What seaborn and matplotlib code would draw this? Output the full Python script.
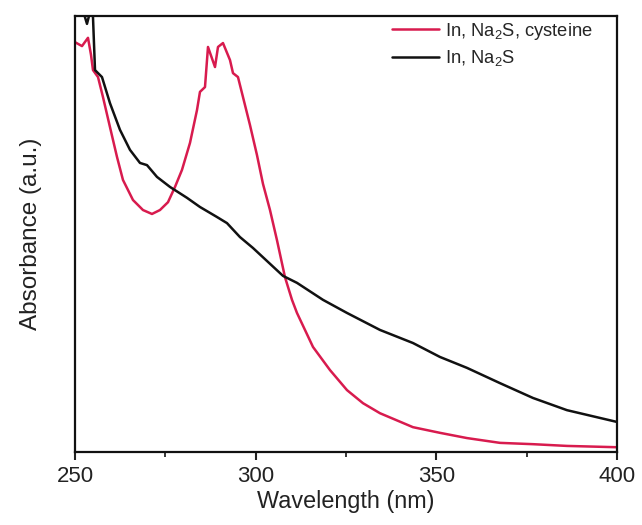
import matplotlib
matplotlib.use("Agg")
import matplotlib.pyplot as plt
import seaborn as sns
import pandas as pd
from matplotlib.ticker import MultipleLocator

# Data (normalized absorbance, arbitrary units)
red_wl = [250.00, 251.94, 253.60, 254.43, 254.98, 256.37, 257.75, 259.69, 261.62, 263.28,
          266.05, 268.82, 271.31, 273.52, 275.74, 277.68, 279.61, 281.83, 283.76, 284.59,
          285.98, 286.81, 288.75, 289.58, 290.96, 292.90, 293.73, 295.11, 296.50, 298.43,
          300.37, 302.03, 303.97, 305.90, 308.12, 310.06, 311.44, 315.87, 320.57, 325.28,
          329.71, 334.41, 343.54, 351.02, 358.49, 367.62, 376.75, 386.16, 400.00]
red_abs = [0.940, 0.931, 0.950, 0.911, 0.876, 0.860, 0.814, 0.745, 0.677, 0.624,
           0.578, 0.555, 0.546, 0.555, 0.573, 0.608, 0.647, 0.709, 0.784, 0.826,
           0.837, 0.929, 0.883, 0.929, 0.938, 0.899, 0.869, 0.860, 0.814, 0.750,
           0.681, 0.615, 0.555, 0.486, 0.401, 0.349, 0.319, 0.241, 0.188, 0.142,
           0.112, 0.089, 0.057, 0.044, 0.032, 0.021, 0.018, 0.014, 0.011]

black_wl = [250.83, 252.49, 253.32, 254.15, 254.98, 255.54, 257.47, 259.69, 262.45, 265.22,
            267.99, 269.93, 272.69, 276.29, 281.00, 284.59, 289.30, 292.07, 295.66, 299.26,
            307.57, 311.44, 318.64, 325.28, 334.41, 343.54, 351.02, 358.49, 367.62, 376.75,
            386.16, 400.00]
black_abs = [1.014, 1.005, 0.982, 1.009, 0.998, 0.876, 0.860, 0.800, 0.739, 0.693,
             0.663, 0.658, 0.631, 0.608, 0.583, 0.562, 0.539, 0.525, 0.493, 0.468,
             0.404, 0.388, 0.349, 0.319, 0.280, 0.250, 0.218, 0.193, 0.158, 0.124,
             0.096, 0.069]

labels = ["In, Na$\\mathregular{_2}$S, cysteine", "In, Na$\\mathregular{_2}$S"]
colors = ["#d81b4e", "#111111"]

sns.set_theme(style="white")
plt.rcParams["font.family"] = ["Liberation Sans", "DejaVu Sans"]
plt.rcParams["mathtext.fontset"] = "custom"
plt.rcParams["mathtext.rm"] = "Liberation Sans"

df_red = pd.DataFrame({"wl": red_wl, "abs": red_abs})
df_black = pd.DataFrame({"wl": black_wl, "abs": black_abs})

fig = plt.figure(figsize=(6.42, 5.25), dpi=100)
ax = fig.add_axes([0.1168, 0.139, 0.961 - 0.1168, 0.9695 - 0.139])

sns.lineplot(data=df_red, x="wl", y="abs", ax=ax, color=colors[0], lw=1.8,
             sort=False, label=labels[0])
sns.lineplot(data=df_black, x="wl", y="abs", ax=ax, color=colors[1], lw=1.8,
             sort=False, label=labels[1])

ax.set_xlim(250, 400)
ax.set_ylim(0, 1.0)
ax.set_yticks([])
ax.xaxis.set_major_locator(MultipleLocator(50))
ax.xaxis.set_minor_locator(MultipleLocator(25))
ax.tick_params(axis="x", which="major", direction="out", length=6, width=1.5,
               bottom=True, labelsize=16, pad=4, colors="#222222")
ax.tick_params(axis="x", which="minor", direction="out", length=3.5, width=1.3,
               bottom=True)
for s in ax.spines.values():
    s.set_linewidth(1.6)
    s.set_color("#111111")

ax.set_xlabel("Wavelength (nm)", fontsize=16.8, color="#222222", labelpad=2)
ax.set_ylabel("Absorbance (a.u.)", fontsize=17.5, color="#222222")
ax.yaxis.set_label_coords(-0.061, 0.5)

leg = ax.legend(loc="upper right", bbox_to_anchor=(0.962, 0.998), frameon=False,
                fontsize=13.2, handlelength=2.6, handletextpad=0.3,
                labelspacing=0.35, borderaxespad=0.0, borderpad=0.2)

fig.savefig("out.png", dpi=100)
